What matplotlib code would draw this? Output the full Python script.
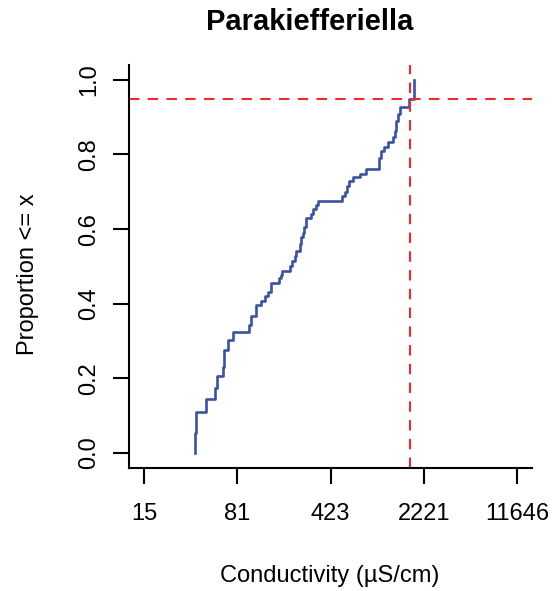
import matplotlib
matplotlib.use("Agg")
import matplotlib.pyplot as plt
import numpy as np

plt.rcParams['font.family'] = ['Liberation Sans', 'DejaVu Sans']

title = "Parakiefferiella"
xlabel = "Conductivity (\u00b5S/cm)"
ylabel = "Proportion <= x"

# step locations (conductivity, uS/cm) and cumulative proportion after each step
conductivity = [38.0, 38.4, 38.8, 46.2, 54.8, 56.1, 62.8, 63.6, 68.8, 75.2,
                99.6, 103.9, 111.6, 113.2, 123.7, 131.7, 139.6, 146.5, 168.9, 175.0,
                180.3, 207.8, 212.7, 224.3, 230.4, 247.5, 251.9, 258.7, 265.7, 275.3,
                300.8, 310.6, 325.8, 340.6, 521.9, 545.6, 568.3, 585.7, 634.5, 712.1,
                792.3, 1007, 1034, 1096, 1177, 1286, 1326, 1350, 1406, 1467,
                1710, 1868]
proportion = [0.0, 0.054, 0.109, 0.145, 0.173, 0.206, 0.231, 0.275, 0.302, 0.323,
              0.342, 0.367, 0.389, 0.396, 0.407, 0.420, 0.432, 0.455, 0.468, 0.476,
              0.488, 0.500, 0.515, 0.527, 0.541, 0.560, 0.578, 0.590, 0.605, 0.629,
              0.640, 0.654, 0.664, 0.674, 0.689, 0.700, 0.716, 0.730, 0.739, 0.748,
              0.760, 0.790, 0.810, 0.819, 0.833, 0.846, 0.864, 0.891, 0.909, 0.927,
              0.949, 1.0]

x_ticks = [15.45, 80.8, 423.6, 2221, 11646]
x_ticklabels = ["15", "81", "423", "2221", "11646"]
y_ticks = [0.0, 0.2, 0.4, 0.6, 0.8, 1.0]
y_ticklabels = ["0.0", "0.2", "0.4", "0.6", "0.8", "1.0"]

q95 = 1731
p_ref = 0.95

W, H = 557, 591
fig = plt.figure(figsize=(W / 100, H / 100), dpi=100)
ax = fig.add_axes([129.3 / W, 1 - 467.7 / H, (532 - 129.3) / W, (467.7 - 65) / H])

ax.plot(conductivity, proportion, drawstyle='steps-post', color='#3A52A4', lw=1.9)
ax.axvline(q95, color='#EE2A2A', lw=1.5, ls=(0, (5, 4)))
ax.axhline(p_ref, color='#EE2A2A', lw=1.5, ls=(0, (5, 4)))

ax.set_xscale('log')
lo, hi = np.log10(x_ticks[0]), np.log10(x_ticks[-1])
ext = 0.04 * (hi - lo)
ax.set_xlim(10 ** (lo - ext), 10 ** (hi + ext))
ax.set_ylim(-0.04, 1.04)
ax.xaxis.set_minor_locator(matplotlib.ticker.NullLocator())
ax.set_xticks(x_ticks)
ax.set_xticklabels(x_ticklabels)
ax.set_yticks(y_ticks)
ax.set_yticklabels(y_ticklabels, rotation=90, va='center')

for s in ['top', 'right']:
    ax.spines[s].set_visible(False)
for s in ['left', 'bottom']:
    ax.spines[s].set_linewidth(1.5)
ax.tick_params(axis='both', direction='out', length=11.5, width=1.5, labelsize=17)
ax.tick_params(axis='x', pad=14)
ax.tick_params(axis='y', pad=9.5)

fig.text(310 / W, 1 - 22 / H, title, ha='center', va='center', fontsize=21, fontweight='bold')
fig.text(330 / W, 1 - 576 / H, xlabel, ha='center', va='center', fontsize=17)
fig.text(28 / W, 1 - 274 / H, ylabel, ha='center', va='center', fontsize=17, rotation=90)

fig.savefig("out.png", dpi=100)
